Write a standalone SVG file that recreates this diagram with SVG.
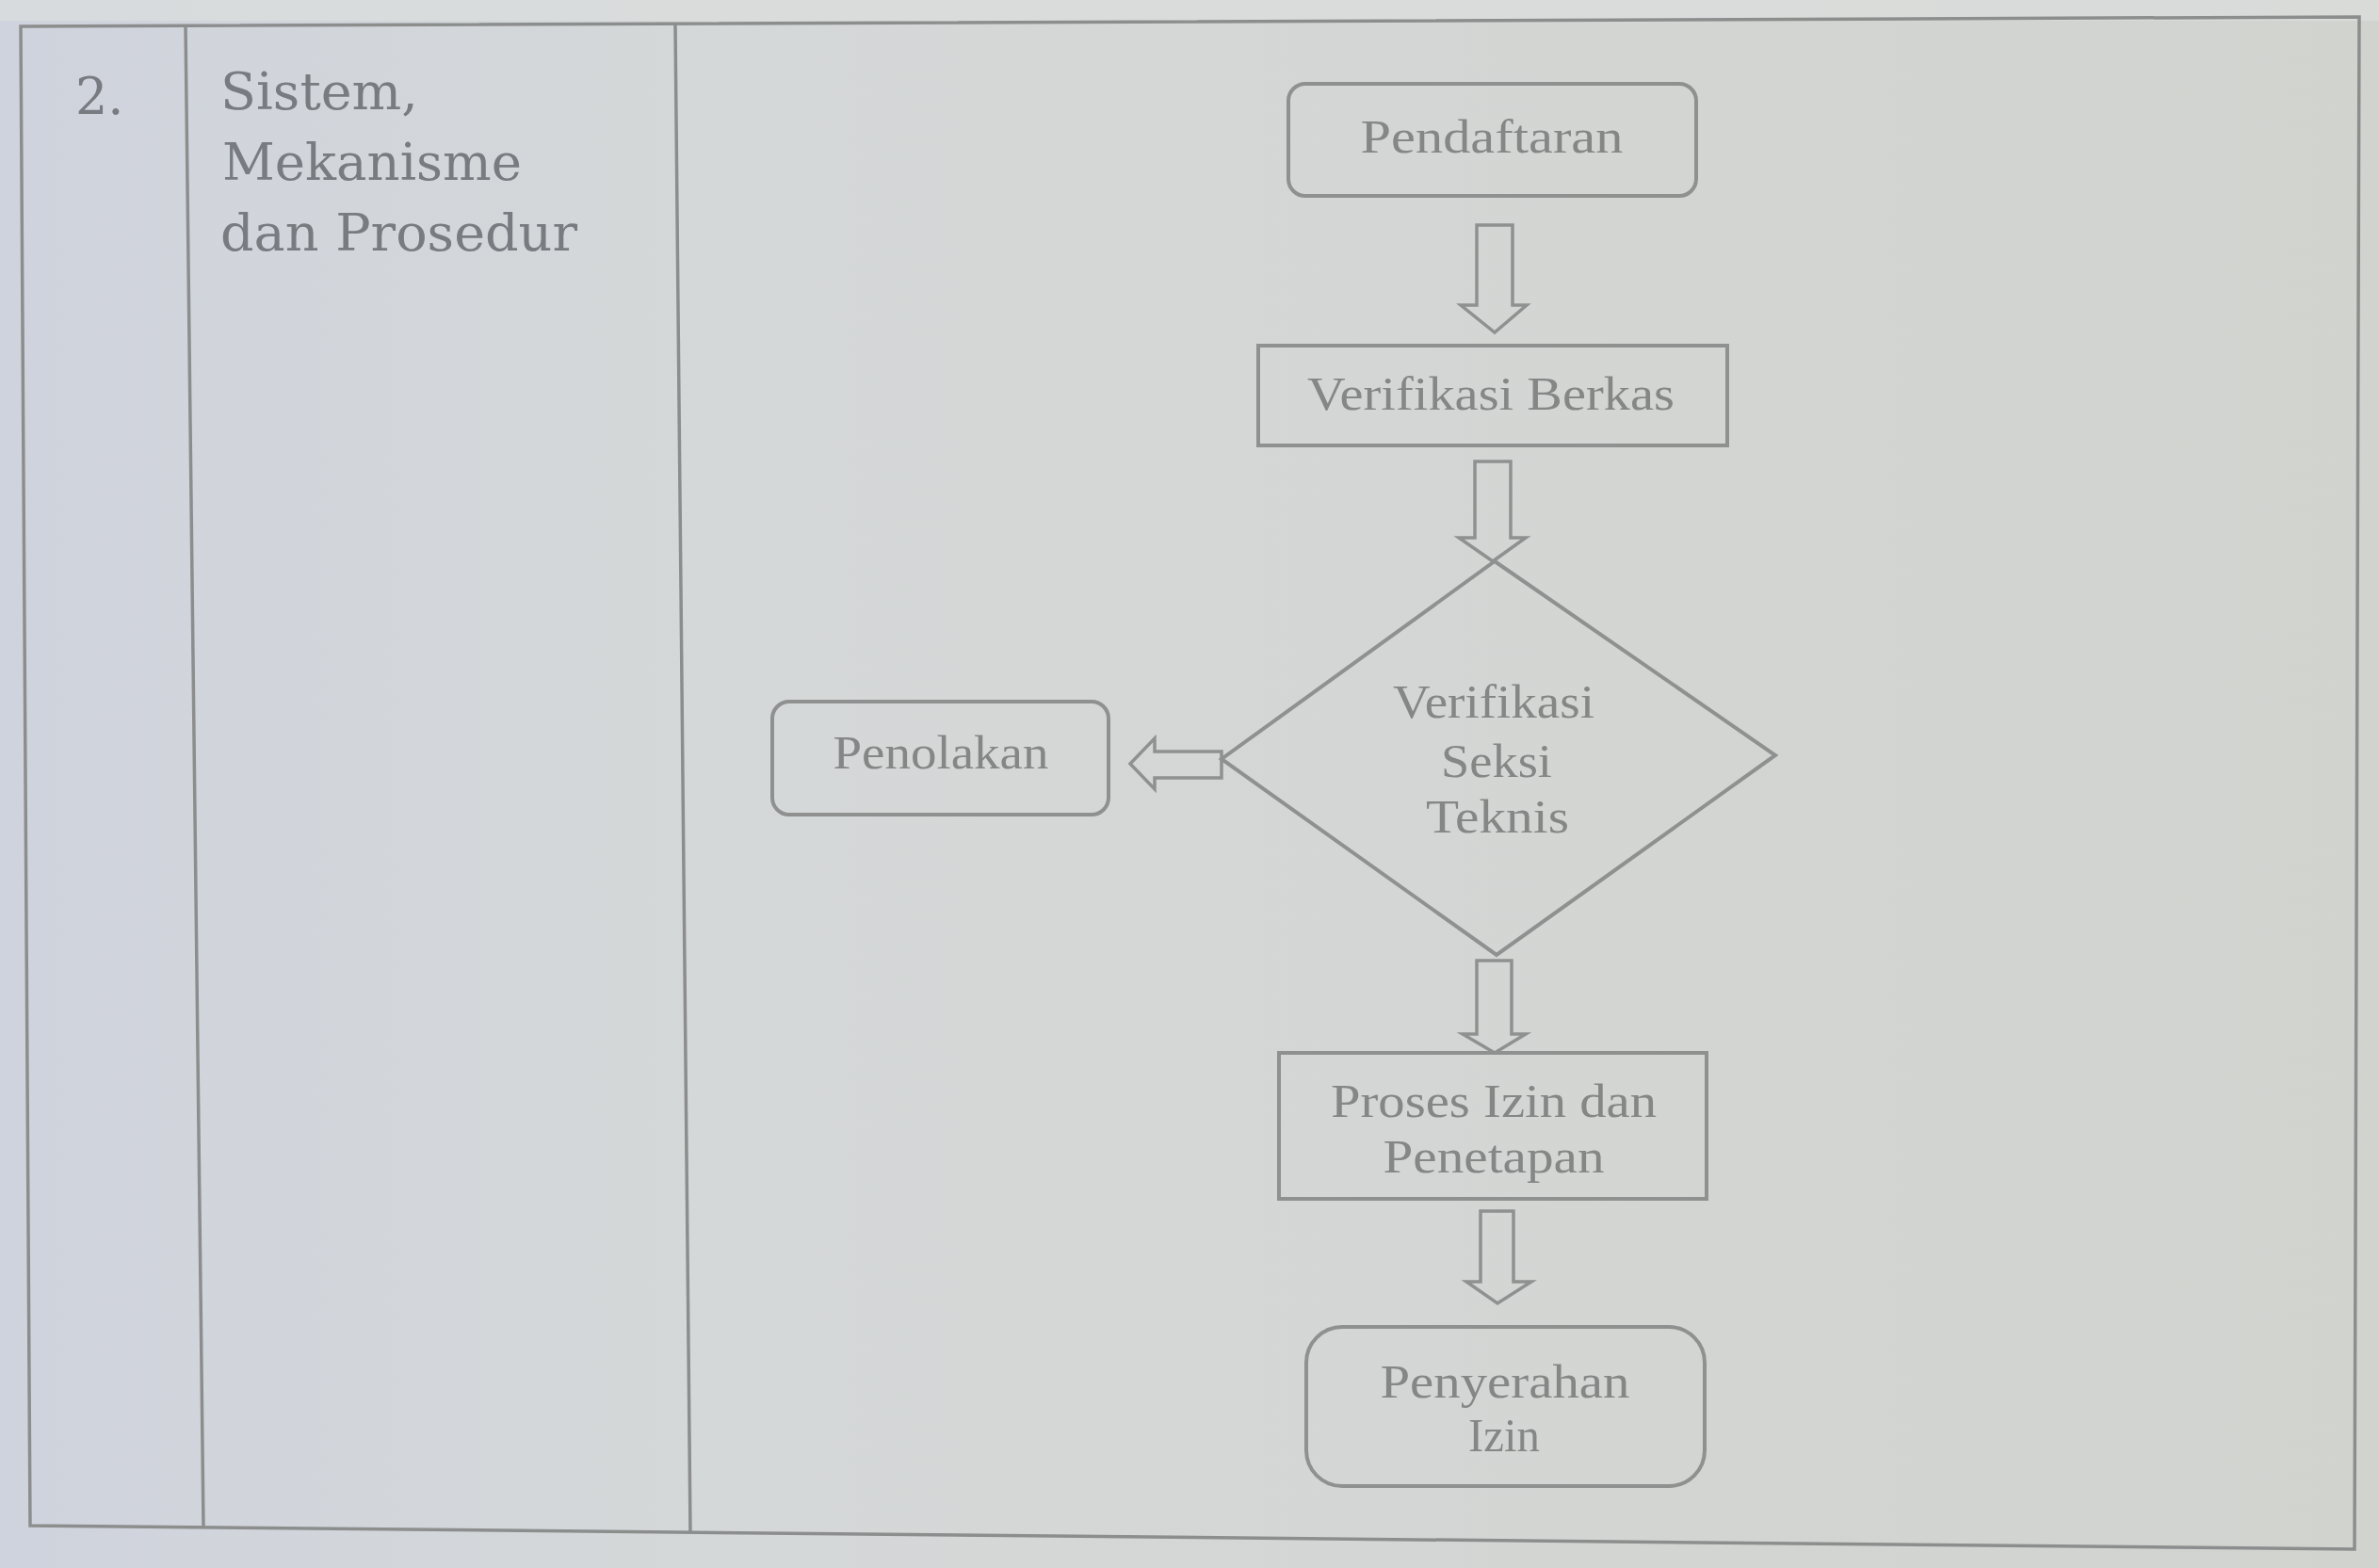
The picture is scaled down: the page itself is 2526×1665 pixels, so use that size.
<svg xmlns="http://www.w3.org/2000/svg" width="2526" height="1665" viewBox="0 0 2526 1665">
<defs>
<linearGradient id="bg" x1="0" y1="0" x2="1" y2="0">
<stop offset="0" stop-color="#cfd3dd"/>
<stop offset="0.3" stop-color="#d5d8d8"/>
<stop offset="1" stop-color="#d0d3ce"/>
</linearGradient>
<style>
.ln{fill:none;stroke:#8c8e8e;stroke-width:3.5}
.box{fill:none;stroke:#8f9190;stroke-width:4}
.arr{fill:none;stroke:#8f9190;stroke-width:3.5;stroke-linejoin:miter}
.t{font-family:"DejaVu Serif","Liberation Serif",serif;font-size:54px;fill:#787b80}
.f{font-family:"Liberation Serif","DejaVu Serif",serif;font-size:50px;fill:#858786;text-anchor:middle}
</style>
</defs>
<rect x="0" y="0" width="2526" height="1665" fill="url(#bg)"/>
<rect x="0" y="0" width="2526" height="22" fill="#dcdedd" opacity="0.7"/>
<g id="table">
<path class="ln" d="M22,28 L2505,18 L2500,1645 L32,1620 Z"/>
<line class="ln" x1="197" y1="28" x2="216" y2="1621"/>
<line class="ln" x1="717" y1="26" x2="733" y2="1628"/>
<text class="t" x="80" y="121">2.</text>
<text class="t" x="234" y="116" textLength="210" lengthAdjust="spacingAndGlyphs">Sistem,</text>
<text class="t" x="236" y="191" textLength="318" lengthAdjust="spacingAndGlyphs">Mekanisme</text>
<text class="t" x="234" y="266" textLength="379" lengthAdjust="spacingAndGlyphs">dan Prosedur</text>
</g>
<g id="connectors">
<path class="arr" d="M1568,239 L1606,239 L1606,324 L1621,324 L1587,353 L1551,324 L1568,324 Z"/>
<path class="arr" d="M1566,490 L1604,490 L1604,571 L1620,571 L1585,596 L1549,571 L1566,571 Z"/>
<path class="arr" d="M1297,798 L1226,798 L1226,784 L1200,811 L1226,838 L1226,826 L1297,826 Z"/>
<path class="arr" d="M1568,1020 L1605,1020 L1605,1098 L1620,1098 L1587,1118 L1553,1098 L1568,1098 Z"/>
<path class="arr" d="M1572,1286 L1607,1286 L1607,1361 L1626,1361 L1590,1384 L1557,1361 L1572,1361 Z"/>
</g>
<g id="pendaftaran">
<rect class="box" x="1368" y="89" width="433" height="119" rx="18"/>
<text class="f" x="1584" y="162" textLength="279" lengthAdjust="spacingAndGlyphs">Pendaftaran</text>
</g>
<g id="verifikasi-berkas">
<rect class="box" x="1336" y="367" width="498" height="106"/>
<text class="f" x="1583" y="435" textLength="390" lengthAdjust="spacingAndGlyphs">Verifikasi Berkas</text>
</g>
<g id="verifikasi-seksi-teknis">
<path class="box" d="M1587,596 L1885,802 L1589,1014 L1297,806 Z"/>
<text class="f" x="1586" y="762" textLength="214" lengthAdjust="spacingAndGlyphs">Verifikasi</text>
<text class="f" x="1589" y="825" textLength="118" lengthAdjust="spacingAndGlyphs">Seksi</text>
<text class="f" x="1590" y="884" textLength="152" lengthAdjust="spacingAndGlyphs">Teknis</text>
</g>
<g id="penolakan">
<rect class="box" x="820" y="745" width="357" height="120" rx="18"/>
<text class="f" x="999" y="816" textLength="229" lengthAdjust="spacingAndGlyphs">Penolakan</text>
</g>
<g id="proses-izin">
<rect class="box" x="1358" y="1118" width="454" height="155"/>
<text class="f" x="1586" y="1186" textLength="346" lengthAdjust="spacingAndGlyphs">Proses Izin dan</text>
<text class="f" x="1586" y="1245" textLength="235" lengthAdjust="spacingAndGlyphs">Penetapan</text>
</g>
<g id="penyerahan-izin">
<rect class="box" x="1387" y="1409" width="423" height="169" rx="38"/>
<text class="f" x="1598" y="1484" textLength="265" lengthAdjust="spacingAndGlyphs">Penyerahan</text>
<text class="f" x="1597" y="1541" textLength="76" lengthAdjust="spacingAndGlyphs">Izin</text>
</g>
</svg>
